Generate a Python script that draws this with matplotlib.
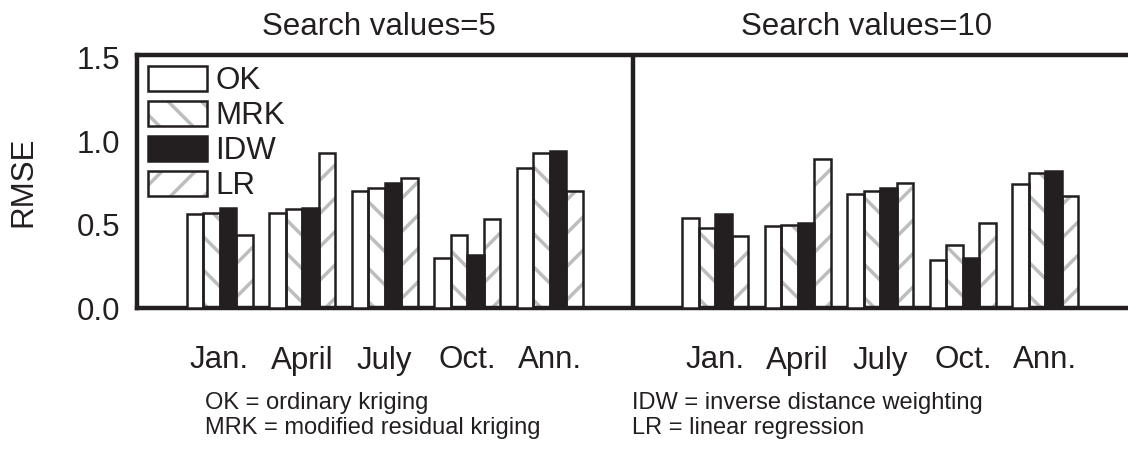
import numpy as np
import matplotlib
matplotlib.use("Agg")
import matplotlib.pyplot as plt
from matplotlib.patches import Patch

plt.rcParams["font.family"] = ["Liberation Sans", "DejaVu Sans"]
plt.rcParams["hatch.linewidth"] = 2.5

months = ["Jan.", "April", "July", "Oct.", "Ann."]
methods = ["OK", "MRK", "IDW", "LR"]

# RMSE, search values = 5
ok5 = [0.56, 0.57, 0.70, 0.30, 0.84]
mrk5 = [0.57, 0.59, 0.72, 0.44, 0.93]
idw5 = [0.60, 0.60, 0.75, 0.32, 0.94]
lr5 = [0.44, 0.93, 0.78, 0.53, 0.70]

# RMSE, search values = 10
ok10 = [0.54, 0.49, 0.68, 0.29, 0.74]
mrk10 = [0.48, 0.50, 0.70, 0.38, 0.81]
idw10 = [0.56, 0.51, 0.72, 0.30, 0.82]
lr10 = [0.43, 0.89, 0.75, 0.51, 0.67]

dark = "#231f20"
grey = "#bdbdbd"
styles = {
    "OK": dict(fc="white", hatch=None),
    "MRK": dict(fc="white", hatch="\\"),
    "IDW": dict(fc=dark, hatch=None),
    "LR": dict(fc="white", hatch="/"),
}
big = 22.5
small = 17

fig = plt.figure(figsize=(11.28, 4.51), dpi=100)
ax = fig.add_axes([137 / 1128, 143 / 451, 991 / 1128, 253 / 451])

x5 = np.arange(1, 6)
x10 = np.arange(7, 12)
w = 0.2
series5 = [ok5, mrk5, idw5, lr5]
series10 = [ok10, mrk10, idw10, lr10]

for i, m in enumerate(methods):
    st = styles[m]
    for xs, vals in ((x5, series5[i]), (x10, series10[i])):
        pos = xs + (i - 1.5) * w
        if st["hatch"]:
            ax.bar(pos, vals, w, color=st["fc"], edgecolor=grey,
                   hatch=st["hatch"], linewidth=0, zorder=2)
            ax.bar(pos, vals, w, fill=False, edgecolor=dark,
                   linewidth=1.8, zorder=3)
        else:
            ax.bar(pos, vals, w, color=st["fc"], edgecolor=dark,
                   linewidth=1.8, zorder=3)

ax.axvline(6, color=dark, linewidth=3.2, zorder=4)

ax.set_xlim(0, 12)
ax.set_ylim(0, 1.515)
ax.set_yticks([0, 0.5, 1.0, 1.5])
ax.set_yticklabels(["0.0", "0.5", "1.0", "1.5"])
ax.set_xticks(list(x5) + list(x10))
ax.set_xticklabels(months + months)
ax.tick_params(axis="x", length=0, pad=27, labelsize=big, colors=dark)
ax.tick_params(axis="y", length=0, pad=12, labelsize=big, colors=dark)
ax.set_ylabel("RMSE", fontsize=big, color=dark, labelpad=28)

for side in ("left", "top", "bottom"):
    ax.spines[side].set_linewidth(3.2)
    ax.spines[side].set_color(dark)
ax.spines["right"].set_visible(False)

ax.text(2.93, 1.59, "Search values=5", ha="center", va="bottom",
        fontsize=big, color=dark)
ax.text(8.83, 1.59, "Search values=10", ha="center", va="bottom",
        fontsize=big, color=dark)

# legend with grey hatching under black outlines
handles = []
for m in methods:
    st = styles[m]
    if st["hatch"]:
        handles.append((Patch(fc="white", ec=grey, hatch=st["hatch"], lw=0),
                        Patch(fc="none", ec=dark, lw=1.8)))
    else:
        handles.append(Patch(fc=st["fc"], ec=dark, lw=1.8))
ax.legend(handles, methods, loc="upper left", frameon=False, fontsize=big,
          handlelength=1.9, handleheight=0.85, labelspacing=0.15,
          handletextpad=0.25, borderaxespad=0.15, borderpad=0.2,
          labelcolor=dark)

fig.text(205 / 1128, 1 - 403 / 451, "OK = ordinary kriging", fontsize=small,
         va="center", color=dark)
fig.text(205 / 1128, 1 - 428 / 451, "MRK = modified residual kriging",
         fontsize=small, va="center", color=dark)
fig.text(632 / 1128, 1 - 403 / 451, "IDW = inverse distance weighting",
         fontsize=small, va="center", color=dark)
fig.text(632 / 1128, 1 - 428 / 451, "LR = linear regression", fontsize=small,
         va="center", color=dark)

fig.savefig("out.png", dpi=100)
